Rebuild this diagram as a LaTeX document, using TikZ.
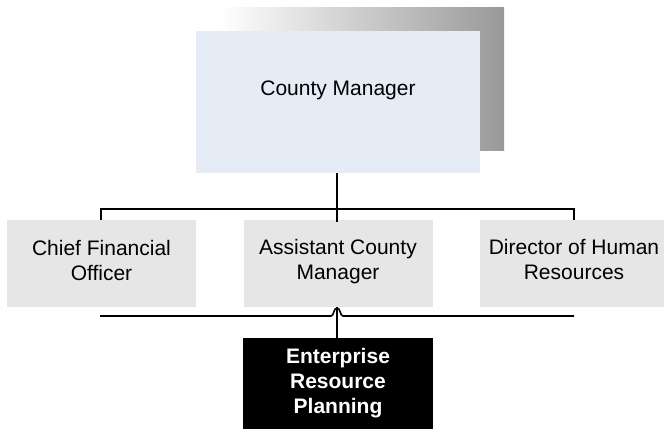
\documentclass[tikz,border=0pt]{standalone}
\usepackage{fontspec}
\setmainfont{Liberation Sans}
\definecolor{cmfill}{HTML}{E6ECF6}
\definecolor{unitfill}{HTML}{E6E6E6}
\definecolor{shadowgray}{HTML}{999999}
\begin{document}
\begin{tikzpicture}[x=1bp,y=-1bp,
  conn/.style={line width=1.6bp, black},
  txt/.style={font=\fontsize{21bp}{25bp}\selectfont, align=center},
  cmbox/.style={fill=cmfill, draw=none, minimum width=284bp, minimum height=142bp, inner sep=0pt},
  unitbox/.style={fill=unitfill, draw=none, minimum width=189bp, minimum height=87bp, inner sep=0pt},
  erpbox/.style={fill=black, draw=none, text=white, minimum width=190bp, minimum height=91bp, inner sep=0pt,
    txt, font=\fontsize{21bp}{25bp}\selectfont\bfseries}
]
\useasboundingbox (0,0) rectangle (664,431);

% graded drop shadow behind the top box
\shade[left color=white, right color=shadowgray] (220,7) rectangle (504,150);

% boxes
\node[cmbox, label={[txt, yshift=12bp]center:County Manager}] (cm) at (338,102) {};
\node[unitbox, label={[txt, yshift=3bp]center:Chief Financial\\Officer}] (cfo) at (101.5,263.5) {};
\node[unitbox, label={[txt, yshift=2bp]center:Assistant County\\Manager}] (acm) at (338,263.5) {};
\node[unitbox, label={[txt, yshift=4bp]center:Director of Human\\Resources}] (dhr) at (574,263.5) {};
\node[erpbox] (erp) at (338,383.5) {Enterprise\\Resource\\Planning};

% reporting lines from the County Manager
\coordinate (bus) at (337,209);
\draw[conn] (cm.south -| bus) -- ([yshift=-2bp]acm.north -| bus);
\draw[conn] (cfo.north -| 100.7,0) -- (100.7,209) -- (574,209) -- (dhr.north -| 574,0);

% lower line with a hop over the ERP link
\coordinate (low) at (337,316);
\draw[conn] (100,316) -- (331,316)
  .. controls (334,316) and (333.5,308) .. (337,308)
  .. controls (340.5,308) and (340,316) .. (343,316) -- (574,316);
\draw[conn] (erp.north -| bus) -- (acm.south -| bus);
\end{tikzpicture}
\end{document}
